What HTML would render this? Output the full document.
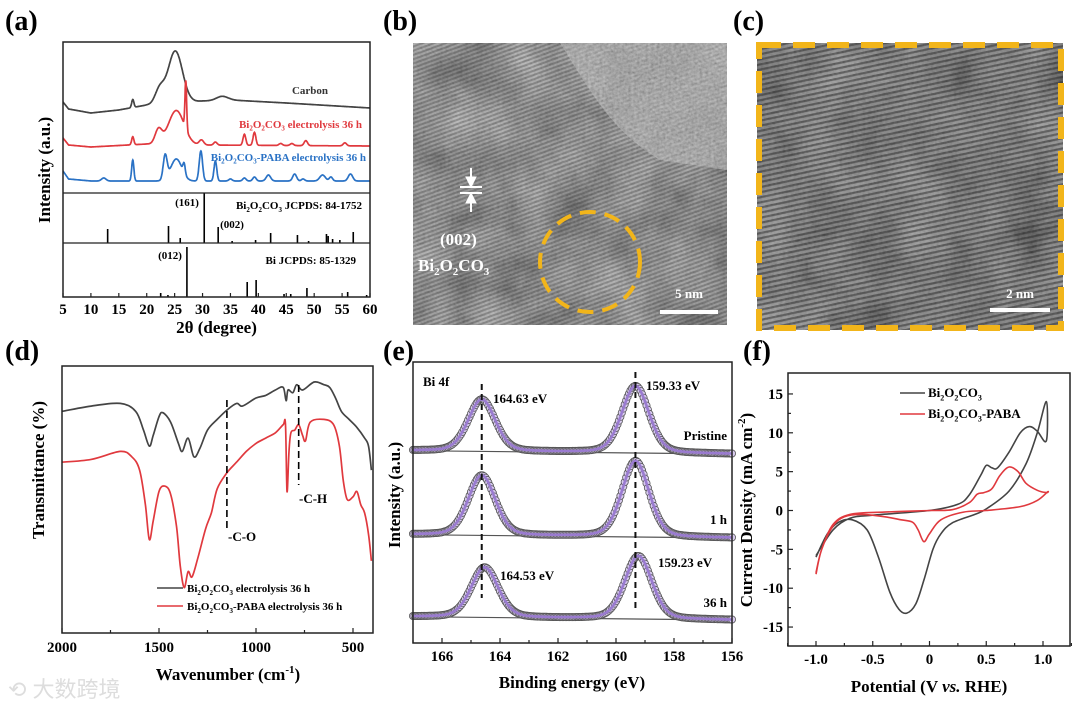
<!DOCTYPE html>
<html><head><meta charset="utf-8">
<style>
html,body{margin:0;padding:0;background:#fff;}
svg{display:block;font-family:"Liberation Serif","Noto Serif CJK SC",serif;}
.pl{font-weight:bold;font-size:28px;}
.tk{font-weight:bold;font-size:15px;}
.ttl{font-weight:bold;font-size:17px;}
.sm{font-weight:bold;font-size:11px;}
.md{font-weight:bold;font-size:13px;}
</style></head>
<body>
<svg id="fig" width="1080" height="703" viewBox="0 0 1080 703" xmlns="http://www.w3.org/2000/svg">
<defs>
<filter id="noiseB" x="0" y="0" width="100%" height="100%">
<feTurbulence type="fractalNoise" baseFrequency="0.35" numOctaves="2" seed="3"/>
<feColorMatrix type="saturate" values="0"/>
<feComponentTransfer><feFuncA type="table" tableValues="0.55 0.55"/></feComponentTransfer>
</filter>
<filter id="blobB" x="0" y="0" width="100%" height="100%">
<feTurbulence type="fractalNoise" baseFrequency="0.02" numOctaves="3" seed="7"/>
<feColorMatrix type="saturate" values="0"/>
<feComponentTransfer><feFuncR type="linear" slope="1.6" intercept="-0.3"/><feFuncG type="linear" slope="1.6" intercept="-0.3"/><feFuncB type="linear" slope="1.6" intercept="-0.3"/><feFuncA type="table" tableValues="0.6 0.6"/></feComponentTransfer>
</filter>
<pattern id="fringeB" width="4" height="4" patternUnits="userSpaceOnUse" patternTransform="rotate(-20)">
<rect width="4" height="2" fill="#000" opacity="0.3"/>
</pattern>
<pattern id="fringeC" width="5" height="5" patternUnits="userSpaceOnUse" patternTransform="rotate(-12)">
<rect width="5" height="2.2" fill="#000" opacity="0.5"/>
</pattern>
<clipPath id="clipB"><rect x="413" y="43" width="314" height="282"/></clipPath>
<clipPath id="clipLight"><path d="M560 43 C590 90 610 130 660 160 L727 170 L727 43 Z"/></clipPath>
</defs>

<text class="pl" x="5" y="30">(a)</text>
<text class="pl" x="383" y="30">(b)</text>
<text class="pl" x="733" y="30">(c)</text>
<text class="pl" x="5" y="360">(d)</text>
<text class="pl" x="383" y="360">(e)</text>
<text class="pl" x="743" y="360">(f)</text>

<g clip-path="url(#clipB)">
<rect x="413" y="43" width="314" height="282" fill="#4a4a4a"/>
<rect x="413" y="43" width="314" height="282" filter="url(#blobB)"/>
<rect x="413" y="43" width="314" height="282" fill="url(#fringeB)"/>
<g clip-path="url(#clipLight)"><rect x="413" y="43" width="314" height="282" fill="#a8a8a8" opacity="0.6"/><rect x="413" y="43" width="314" height="282" filter="url(#noiseB)" opacity="0.5"/></g>
<rect x="413" y="43" width="314" height="282" filter="url(#noiseB)" opacity="0.45"/>
</g>
<circle cx="590" cy="262" r="50" fill="none" stroke="#f2b51a" stroke-width="4" stroke-dasharray="16 9"/>
<g stroke="#fff" fill="#fff">
<line x1="460" y1="187" x2="482" y2="187" stroke-width="2"/><line x1="460" y1="193" x2="482" y2="193" stroke-width="2"/>
<path d="M471 187 L466 177 L476 177 Z"/><path d="M471 193 L466 203 L476 203 Z"/>
<line x1="471" y1="168" x2="471" y2="178" stroke-width="2"/><line x1="471" y1="202" x2="471" y2="212" stroke-width="2"/>
</g>
<text x="440" y="245" fill="#fff" class="ttl">(002)</text>
<text x="418" y="271" fill="#fff" class="ttl">Bi<tspan font-size="11" dy="4">2</tspan><tspan dy="-4">O</tspan><tspan font-size="11" dy="4">2</tspan><tspan dy="-4">CO</tspan><tspan font-size="11" dy="4">3</tspan></text>
<line x1="660" y1="312" x2="718" y2="312" stroke="#fff" stroke-width="4"/>
<text x="689" y="298" fill="#fff" class="md" font-size="15" text-anchor="middle">5 nm</text>

<g>
<rect x="757" y="43" width="306" height="287" fill="#454545"/>
<rect x="757" y="43" width="306" height="287" filter="url(#blobB)" opacity="0.8"/>
<rect x="757" y="43" width="306" height="287" fill="url(#fringeC)"/>
<rect x="757" y="43" width="306" height="287" filter="url(#noiseB)" opacity="0.4"/>
</g>
<rect x="759" y="45" width="302" height="283" fill="none" stroke="#f2b51a" stroke-width="6" stroke-dasharray="22 12"/>
<line x1="990" y1="310" x2="1050" y2="310" stroke="#fff" stroke-width="4"/>
<text x="1020" y="298" fill="#fff" class="md" font-size="15" text-anchor="middle">2 nm</text>

<g id="chartA"></g>
<g id="chartD"></g>
<g id="chartE"></g>
<g id="chartF"></g>

<text x="8" y="697" font-family="'Liberation Sans','Noto Sans CJK SC',sans-serif" font-size="22" fill="#ddd">⟲ 大数跨境</text>
</svg>

<script>
// ---------- DATA ----------
const xrdTicks = [5,10,15,20,25,30,35,40,45,50,55,60];
const carbonBase = [[5,91],[6,84],[10,80],[15,83],[20,88],[30,92],[35,93],[45,90],[60,85]];
const carbonPeaks = [[17.5,8,0.2],[22.3,14,0.8],[25.1,52,1.3],[33.5,4,1]];
const redBase = [[5,55],[6,48],[10,46],[20,49],[30,48],[60,47]];
const redPeaks = [[17.5,8,0.2],[22.1,14,0.6],[25.3,34,1.4],[27,48,0.15],[29.8,5,0.4],[32.3,3,0.3],[37.5,11,0.25],[39.3,13,0.25],[44,2,0.3],[46,2,0.3],[48.5,5,0.3],[55.5,3,0.3]];
const blueBase = [[5,22],[6,14],[10,12],[20,12],[60,12]];
const bluePeaks = [[12.3,3,0.4],[17.5,21,0.2],[23.3,24,0.35],[25.3,22,1],[26.7,10,0.2],[29.7,30,0.3],[32.3,20,0.25],[35,2,0.3],[37.5,3,0.3],[39.3,4,0.3],[41.8,6,0.4],[46.5,7,0.35],[48,2,0.3],[51.5,6,0.5],[53,4,0.3],[56.5,7,0.4]];
const refBi2O2CO3 = [[13,14],[23.9,17],[26,5],[30.3,50],[32.8,16],[35.3,2],[39.5,3],[42.2,10],[47,8],[49,2],[52.2,9],[52.5,7],[53.3,4],[54.6,3],[57,11]];
const refBi = [[22.5,4],[23.8,2],[27.2,50],[38,15],[39.6,17],[44.6,3],[45.8,3],[48.7,9],[56,5],[59.4,2]];

const ftirTicks = [2000,1500,1000,500];
const ftirBlack = [[2000,83],[1850,85],[1700,86],[1620,83],[1580,76],[1550,70],[1530,74],[1500,81],[1480,82.5],[1440,79],[1400,71],[1380,68],[1350,73],[1320,66],[1290,69],[1250,76],[1200,80],[1150,83.5],[1100,86],[1070,85],[1000,88],[950,89],[900,91],[860,92],[845,87],[835,91],[810,90],[790,93],[760,91],[700,94],[650,93],[620,92],[590,88],[560,83],[520,80],[480,77],[440,73],[420,70],[405,61]];
const ftirRed = [[2000,64],[1850,65],[1700,68],[1640,66],[1600,61],[1570,48],[1550,35],[1530,42],[1500,53],[1470,55],[1440,52],[1410,40],[1390,25],[1370,17],[1350,23],[1330,21],[1300,28],[1260,39],[1230,45],[1200,54],[1150,60],[1100,64],[1050,68],[1000,71],[950,73],[900,75],[860,78],[848,78],[840,53],[830,68],[820,75],[800,76],[780,78],[760,74],[745,72],[720,79],[650,80],[600,78],[570,70],[550,57],[530,50],[500,51],[480,53],[460,48],[440,45],[420,37],[405,27]];

const xpsTicks = [166,164,162,160,158,156];
const xpsLabels = ["Pristine","1 h","36 h"];
const xpsOffsets = [0,84,166];
const xpsCenters = [[164.63,159.33],[164.63,159.33],[164.53,159.23]];
const xpsHeights = [[52,67],[60,76],[50,63]];

const cvYTicks = [-15,-10,-5,0,5,10,15];
const cvXTicks = [-1.0,-0.5,0,0.5,1.0];
const cvBlack = [[-1.0,-6],[-0.9,-3],[-0.8,-1.5],[-0.68,-1.2],[-0.55,-2.5],[-0.45,-6],[-0.35,-10.5],[-0.27,-12.7],[-0.2,-13.2],[-0.12,-12],[-0.05,-9],[0.03,-5],[0.1,-3],[0.2,-1.6],[0.4,-0.5],[0.5,0.2],[0.7,2.5],[0.85,6],[0.95,10],[1.03,14],[1.03,9],[0.95,10.2],[0.88,10.8],[0.8,10],[0.7,7.5],[0.6,5.5],[0.55,5.5],[0.5,5.8],[0.45,4.5],[0.35,2],[0.25,0.8],[0,0],[-0.5,-0.6],[-0.7,-1],[-0.85,-2.5],[-1.0,-5.8]];
const cvRed = [[-1.0,-8.2],[-0.95,-5],[-0.85,-2],[-0.75,-0.8],[-0.6,-0.5],[-0.4,-0.8],[-0.25,-1.2],[-0.15,-1.5],[-0.1,-2.5],[-0.05,-4],[0,-3],[0.1,-1.2],[0.3,-0.2],[0.5,0],[0.8,0.5],[0.95,1.3],[1.04,2.4],[1.03,2.3],[0.95,2.6],[0.85,3.5],[0.78,5],[0.7,5.6],[0.62,4.5],[0.55,2.8],[0.48,2.3],[0.42,2.1],[0.35,1],[0.2,0.1],[0,0],[-0.4,-0.2],[-0.7,-0.5],[-0.85,-1.8],[-0.95,-5],[-1.0,-8]];

// ---------- HELPERS ----------
const NS = "http://www.w3.org/2000/svg";
function mk(parent, tag, attrs, text){
  const e = document.createElementNS(NS, tag);
  for (const k in attrs) e.setAttribute(k, attrs[k]);
  if (text !== undefined) e.textContent = text;
  parent.appendChild(e);
  return e;
}
function smooth(pts){
  let d = "M"+pts[0][0].toFixed(1)+" "+pts[0][1].toFixed(1);
  for (let i=0;i<pts.length-1;i++){
    const p0=pts[Math.max(0,i-1)], p1=pts[i], p2=pts[i+1], p3=pts[Math.min(pts.length-1,i+2)];
    const c1=[p1[0]+(p2[0]-p0[0])/6, p1[1]+(p2[1]-p0[1])/6];
    const c2=[p2[0]-(p3[0]-p1[0])/6, p2[1]-(p3[1]-p1[1])/6];
    d += " C"+c1[0].toFixed(1)+" "+c1[1].toFixed(1)+" "+c2[0].toFixed(1)+" "+c2[1].toFixed(1)+" "+p2[0].toFixed(1)+" "+p2[1].toFixed(1);
  }
  return d;
}
function interp(base, x){
  for (let i=0;i<base.length-1;i++){
    if (x>=base[i][0] && x<=base[i+1][0]){
      const t=(x-base[i][0])/(base[i+1][0]-base[i][0]);
      return base[i][1]+t*(base[i+1][1]-base[i][1]);
    }
  }
  return base[base.length-1][1];
}
function gauss(x,c,h,w){return h*Math.exp(-0.5*((x-c)/w)**2);}
function bi2o2co3(t, size, suffix){
  const s = Math.round(size*0.65);
  const seq = [["Bi",0],["2",1],["O",0],["2",1],["CO",0],["3",1]];
  let sub=false;
  seq.forEach(([txt,isSub])=>{
    const ts = document.createElementNS(NS,"tspan");
    if (isSub && !sub){ts.setAttribute("dy", size*0.25); ts.setAttribute("font-size", s); sub=true;}
    else if (!isSub && sub){ts.setAttribute("dy", -size*0.25); sub=false;}
    else if (isSub){ts.setAttribute("font-size", s);}
    ts.textContent = txt; t.appendChild(ts);
  });
  if (suffix){const ts=document.createElementNS(NS,"tspan"); ts.setAttribute("dy",-size*0.25); ts.textContent=suffix; t.appendChild(ts);}
}

// ---------- (a) XRD ----------
(function(){
  const g = document.getElementById("chartA");
  const L=63,R=370,T=42,B=297,D1=193,D2=243;
  const xA = v => L+(v-5)*(R-L)/55;
  const yTop = v => D1 - v;
  const yRef1 = v => D2 - v;
  const yRef2 = v => B - v;
  const series = [[carbonBase,carbonPeaks,"#444","xrd-carbon-line"],[redBase,redPeaks,"#e0393e","xrd-bi2o2co3-line"],[blueBase,bluePeaks,"#2a72c5","xrd-paba-line"]];
  series.forEach(s=>{
    let d="";
    for (let v=5; v<=60.001; v+=0.05){
      let val = interp(s[0],v);
      s[1].forEach(p=>{val+=gauss(v,p[0],p[1],p[2]);});
      d += (d?"L":"M")+xA(v).toFixed(1)+" "+yTop(val).toFixed(1);
    }
    const p = mk(g,"path",{d:d,fill:"none",stroke:s[2],"stroke-width":1.7});
    
    
  });
  refBi2O2CO3.forEach(r=>{
    const l = mk(g,"line",{x1:xA(r[0]),x2:xA(r[0]),y1:D2,y2:yRef1(r[1]),stroke:"#000","stroke-width":1.6});
    
    
  });
  refBi.forEach(r=>{
    const l = mk(g,"line",{x1:xA(r[0]),x2:xA(r[0]),y1:B,y2:yRef2(r[1]),stroke:"#000","stroke-width":1.6});
    
    
  });
  const box = mk(g,"rect",{x:L,y:T,width:R-L,height:B-T,fill:"none",stroke:"#222","stroke-width":1.5});
  
  
  mk(g,"line",{x1:L,x2:R,y1:D1,y2:D1,stroke:"#222","stroke-width":1.3});
  mk(g,"line",{x1:L,x2:R,y1:D2,y2:D2,stroke:"#222","stroke-width":1.3});
  xrdTicks.forEach(t=>{
    mk(g,"line",{x1:xA(t),x2:xA(t),y1:B,y2:B-4,stroke:"#222","stroke-width":1.2});
    const tx = mk(g,"text",{x:xA(t),y:B+17,class:"tk","text-anchor":"middle"},t);
    
    
  });
  const xt = mk(g,"text",{x:(L+R)/2,y:333,class:"ttl","text-anchor":"middle"},"2θ (degree)");
  
  
  const yt = mk(g,"text",{x:0,y:0,class:"ttl","text-anchor":"middle",transform:"translate(50,170) rotate(-90)"},"Intensity (a.u.)");
  
  
  const c = mk(g,"text",{x:328,y:94,class:"sm",fill:"#333","text-anchor":"end"},"Carbon");
  
  
  const r1 = mk(g,"text",{x:362,y:128,class:"sm",fill:"#e0393e","text-anchor":"end","font-size":10});
  bi2o2co3(r1,10," electrolysis 36 h");
  
  
  const r2 = mk(g,"text",{x:366,y:161,class:"sm",fill:"#2a72c5","text-anchor":"end","font-size":10});
  bi2o2co3(r2,10,"-PABA electrolysis 36 h");
  
  
  const r3 = mk(g,"text",{x:362,y:209,class:"sm","text-anchor":"end","font-size":11});
  bi2o2co3(r3,11," JCPDS: 84-1752");
  
  
  const r4 = mk(g,"text",{x:356,y:264,class:"sm","text-anchor":"end"},"Bi JCPDS: 85-1329");
  
  
  [["(161)",187,206],["(002)",232,228],["(012)",170,259]].forEach(a=>{
    const t = mk(g,"text",{x:a[1],y:a[2],class:"sm","text-anchor":"middle","font-size":10},a[0]);
    
    
  });
})();

// ---------- (d) FTIR ----------
(function(){
  const g = document.getElementById("chartD");
  const L=62,R=373,T=366,B=633;
  const xD = v => 62+(2000-v)*(353-62)/1500;
  const yD = v => B-v*(B-T)/100;
  [[ftirBlack,"#444","ftir-bi2o2co3-line"],[ftirRed,"#e0393e","ftir-paba-line"]].forEach(s=>{
    const p = mk(g,"path",{d:smooth(s[0].map(q=>[xD(q[0]),yD(q[1])])),fill:"none",stroke:s[1],"stroke-width":1.7});
    
    
  });
  mk(g,"line",{x1:xD(1150),x2:xD(1150),y1:400,y2:530,stroke:"#000","stroke-width":1.6,"stroke-dasharray":"7 4"});
  mk(g,"line",{x1:xD(780),x2:xD(780),y1:385,y2:485,stroke:"#000","stroke-width":1.6,"stroke-dasharray":"7 4"});
  const co = mk(g,"text",{x:228,y:541,class:"md"},"-C-O");
  
  
  const ch = mk(g,"text",{x:299,y:503,class:"md"},"-C-H");
  
  
  const box = mk(g,"rect",{x:L,y:T,width:R-L,height:B-T,fill:"none",stroke:"#222","stroke-width":1.5});
  
  
  for (let v=2000; v>=500; v-=250){
    mk(g,"line",{x1:xD(v),x2:xD(v),y1:B,y2:B-(v%500===0?5:3),stroke:"#222","stroke-width":1.2});
  }
  ftirTicks.forEach(t=>{
    const tx = mk(g,"text",{x:xD(t),y:B+19,class:"tk","text-anchor":"middle"},t);
    
    
  });
  const xt = mk(g,"text",{x:228,y:680,class:"ttl","text-anchor":"middle"});
  xt.innerHTML = 'Wavenumber (cm<tspan font-size="11" dy="-7">-1</tspan><tspan dy="7">)</tspan>';
  
  
  const yt = mk(g,"text",{x:0,y:0,class:"ttl","text-anchor":"middle",transform:"translate(44,470) rotate(-90)"},"Transmittance (%)");
  
  
  [["#444",592,""],["#e0393e",610,"-PABA"]].forEach(e=>{
    const l = mk(g,"line",{x1:157,x2:183,y1:e[1]-4,y2:e[1]-4,stroke:e[0],"stroke-width":1.6});
    
    
    const t = mk(g,"text",{x:187,y:e[1],class:"sm","font-size":11});
    bi2o2co3(t,11,e[2]+" electrolysis 36 h");
    
    
  });
})();

// ---------- (e) XPS ----------
(function(){
  const g = document.getElementById("chartE");
  const L=413,R=732,T=362,B=643;
  const xE = v => 442+(166-v)*29;
  const yE = v => 620 - v;
  function pv(x,c,h){const f=1.1; const G=Math.exp(-4*Math.LN2*((x-c)/f)**2); const Lz=1/(1+4*((x-c)/f)**2); return h*(0.75*G+0.25*Lz);}
  xpsCenters.forEach((cs,i)=>{
    const off = xpsOffsets[xpsOffsets.length-1]-xpsOffsets[i];
    const base = v => off + (v-156)*0.3;
    const pts=[];
    for (let v=167; v>=155.999; v-=0.05){
      let val = base(v) + pv(v,cs[0],xpsHeights[i][0]) + pv(v,cs[1],xpsHeights[i][1]);
      pts.push([xE(v),yE(val)]);
    }
    const bl = mk(g,"line",{x1:xE(167),x2:xE(156),y1:yE(base(167)),y2:yE(base(156)),stroke:"#555","stroke-width":1.2});
    
    
    pts.forEach(p=>{
      const c = mk(g,"circle",{cx:p[0].toFixed(1),cy:p[1].toFixed(1),r:3.6,fill:"#d8cbee",stroke:"#555","stroke-width":0.8});
      
      
    });
    const fit = mk(g,"path",{d:"M"+pts.map(p=>p[0].toFixed(1)+" "+p[1].toFixed(1)).join(" L"),fill:"none",stroke:"#9a7bd0","stroke-width":2.6});
    
    
    const lb = mk(g,"text",{x:R-5,y:[440,524,607][i],class:"md","text-anchor":"end"},xpsLabels[i]);
    
    
  });
  mk(g,"line",{x1:xE(164.63),x2:xE(164.63),y1:384,y2:598,stroke:"#111","stroke-width":2,"stroke-dasharray":"6 4"});
  mk(g,"line",{x1:xE(159.33),x2:xE(159.33),y1:372,y2:608,stroke:"#111","stroke-width":2,"stroke-dasharray":"6 4"});
  [["164.63 eV",493,403],["159.33 eV",646,390],["164.53 eV",500,580],["159.23 eV",658,567]].forEach(a=>{
    const t = mk(g,"text",{x:a[1],y:a[2],class:"md"},a[0]);
    
    
  });
  const bi = mk(g,"text",{x:423,y:386,class:"md"},"Bi 4f");
  
  
  const box = mk(g,"rect",{x:L,y:T,width:R-L,height:B-T,fill:"none",stroke:"#222","stroke-width":1.5});
  
  
  for (let v=167; v>=156; v--){
    mk(g,"line",{x1:xE(v),x2:xE(v),y1:B,y2:B-(v%2===0?5:3),stroke:"#222","stroke-width":1.2});
  }
  xpsTicks.forEach(t=>{
    const tx = mk(g,"text",{x:xE(t),y:B+18,class:"tk","text-anchor":"middle"},t);
    
    
  });
  const xt = mk(g,"text",{x:572,y:688,class:"ttl","text-anchor":"middle"},"Binding energy (eV)");
  
  
  const yt = mk(g,"text",{x:0,y:0,class:"ttl","text-anchor":"middle",transform:"translate(400,495) rotate(-90)"},"Intensity (a.u.)");
  
  
})();

// ---------- (f) CV ----------
(function(){
  const g = document.getElementById("chartF");
  const L=788,R=1070,T=373,B=646;
  const xF = v => 929.5+v*113.5;
  const yF = v => 510.5-v*7.77;
  [[cvBlack,"#444","cv-bi2o2co3-line"],[cvRed,"#e0393e","cv-paba-line"]].forEach(s=>{
    const p = mk(g,"path",{d:smooth(s[0].map(q=>[xF(q[0]),yF(q[1])])),fill:"none",stroke:s[1],"stroke-width":1.6});
    
    
  });
  const box = mk(g,"rect",{x:L,y:T,width:R-L,height:B-T,fill:"none",stroke:"#222","stroke-width":1.5});
  
  
  for (let v=-15; v<=15; v+=2.5){
    mk(g,"line",{x1:L,x2:L+(v%5===0?5:3),y1:yF(v),y2:yF(v),stroke:"#222","stroke-width":1.2});
  }
  for (let v=-1.25; v<=1.26; v+=0.25){
    mk(g,"line",{x1:xF(v),x2:xF(v),y1:B,y2:B-(Math.abs((v*4)%2)<0.01?5:3),stroke:"#222","stroke-width":1.2});
  }
  cvYTicks.forEach(t=>{
    const tx = mk(g,"text",{x:L-5,y:yF(t)+5,class:"tk","text-anchor":"end"},t);
    
    
  });
  cvXTicks.forEach(t=>{
    const tx = mk(g,"text",{x:xF(t),y:B+18,class:"tk","text-anchor":"middle"},t===0?"0":t.toFixed(1));
    
    
  });
  const xt = mk(g,"text",{x:929,y:692,class:"ttl","text-anchor":"middle"});
  xt.innerHTML = 'Potential (V <tspan font-style="italic">vs.</tspan> RHE)';
  
  
  const yt = mk(g,"text",{x:0,y:0,class:"ttl","text-anchor":"middle",transform:"translate(752,510) rotate(-90)"});
  yt.innerHTML = 'Current Density (mA cm<tspan font-size="11" dy="-7">-2</tspan><tspan dy="7">)</tspan>';
  
  
  [["#444",397,""],["#e0393e",418,"-PABA"]].forEach(e=>{
    const l = mk(g,"line",{x1:900,x2:925,y1:e[1]-4,y2:e[1]-4,stroke:e[0],"stroke-width":1.6});
    
    
    const t = mk(g,"text",{x:928,y:e[1],class:"md"});
    bi2o2co3(t,13,e[2]);
    
    
  });
})();
</script>
</body></html>
